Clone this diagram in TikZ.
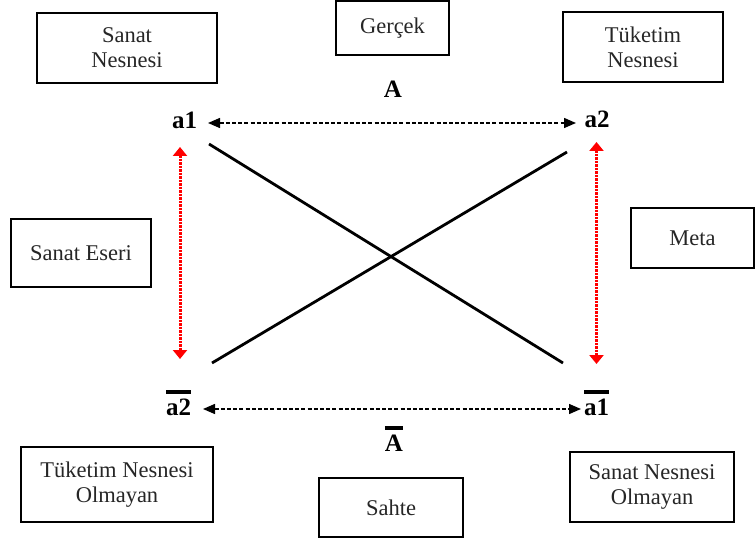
\documentclass[tikz,border=0pt]{standalone}
\usepackage{fontspec}
\setmainfont{Liberation Serif}
\usetikzlibrary{arrows.meta}
\newcommand{\barred}[2]{\vbox{\hrule height #2\kern 4.5pt\hbox{#1}}}
\begin{document}
\begin{tikzpicture}[x=1pt,y=-1pt,
  box/.style={draw=black,line width=2pt,inner sep=0pt,align=center,
    font=\fontsize{22.5}{25}\selectfont,text=black!85},
  lbl/.style={inner sep=0pt,anchor=base,font=\fontsize{25}{28}\selectfont\bfseries},
  dasharrow/.style={line width=1.4pt,dash pattern=on 4pt off 2.2pt,
    {Triangle[length=12pt,width=10pt]}-{Triangle[length=12pt,width=10pt]}},
  redarrow/.style={draw=red,line width=3pt,dash pattern=on 2.5pt off 1pt,
    {Triangle[length=9pt,width=14pt,fill=red]}-{Triangle[length=9pt,width=14pt,fill=red]}},
  diag/.style={line width=2.8pt}]
\useasboundingbox (0,0) rectangle (755,540);
% boxes
\node[box,minimum width=180pt,minimum height=70pt] (sn) at (127,48) {Sanat\\Nesnesi};
\node[box,minimum width=113pt,minimum height=54pt] (g) at (392.5,28) {\raisebox{3pt}{Gerçek}};
\node[box,minimum width=160pt,minimum height=70pt] (tn) at (643,47) {Tüketim\\Nesnesi};
\node[box,minimum width=140pt,minimum height=68pt] (se) at (81,253) {Sanat Eseri};
\node[box,minimum width=123pt,minimum height=60pt] (meta) at (692.5,238) {Meta};
\node[box,minimum width=192pt,minimum height=75pt] (tno) at (117,484.5) {Tüketim Nesnesi\\Olmayan};
\node[box,minimum width=144pt,minimum height=59pt] (sahte) at (391,507.5) {Sahte};
\node[box,minimum width=164pt,minimum height=70pt] (sno) at (652,487) {Sanat Nesnesi\\Olmayan};
% labels
\node[lbl] (a1) at (184.5,129) {a1};
\node[lbl] (a2) at (597,128) {a2};
\node[lbl] (A) at (393,98) {A};
\node[lbl] (a2b) at (178.5,415) {\barred{a2}{3.5pt}};
\node[lbl] (a1b) at (596.5,415) {\barred{a1}{3.5pt}};
\node[lbl] (Ab) at (394,451) {\barred{A}{3.5pt}};
% connector end points
\coordinate (t1) at (208,123);
\coordinate (t2) at (576,123);
\coordinate (b1) at (203,409);
\coordinate (b2) at (581,409);
\coordinate (l1) at (180,147);
\coordinate (l2) at (180,359);
\coordinate (r1) at (596.5,142);
\coordinate (r2) at (596.5,364);
\coordinate (d1s) at (209,144);
\coordinate (d1e) at (563,363);
\coordinate (d2s) at (212,363);
\coordinate (d2e) at (567,152);
% connectors
\draw[dasharrow] (t1) -- (t2);
\draw[dasharrow] (b1) -- (b2);
\draw[redarrow] (l1) -- (l2);
\draw[redarrow] (r1) -- (r2);
\draw[diag] (d1s) -- (d1e);
\draw[diag] (d2s) -- (d2e);
\end{tikzpicture}
\end{document}
